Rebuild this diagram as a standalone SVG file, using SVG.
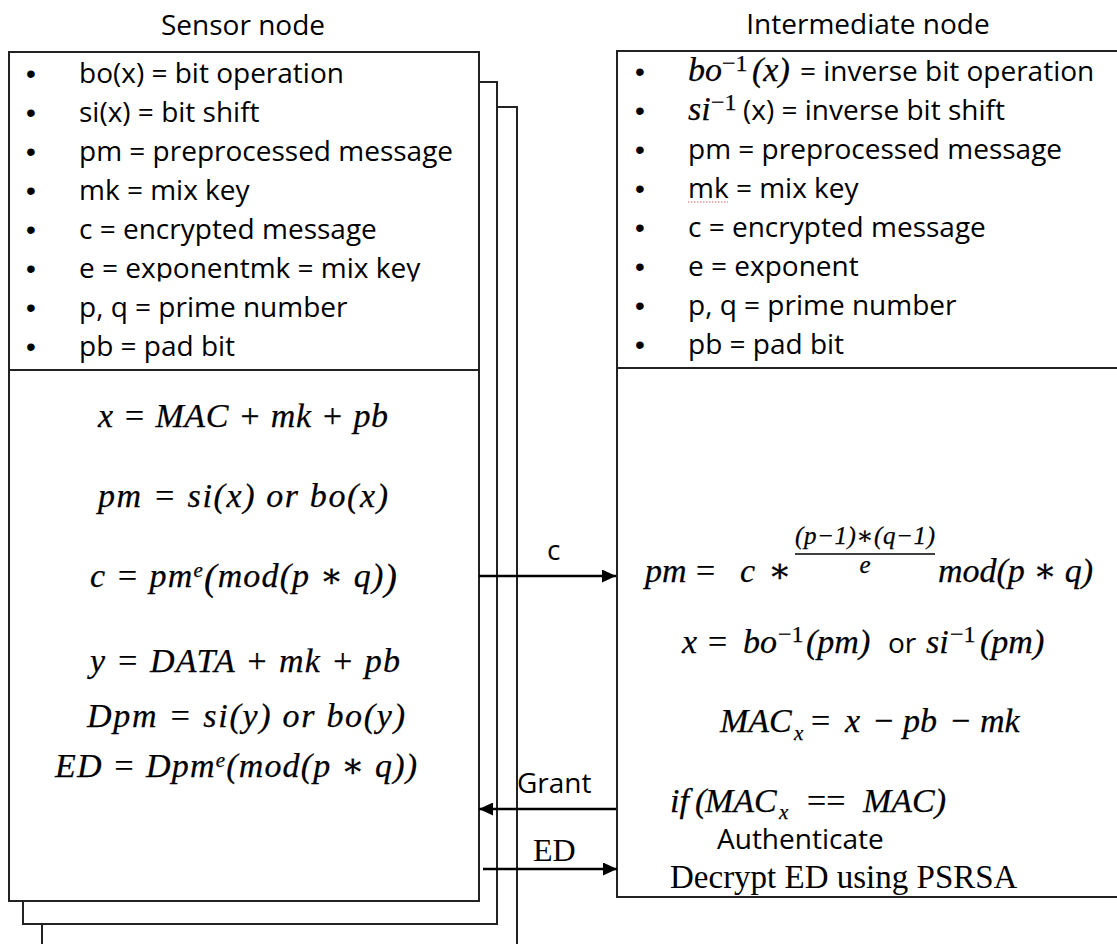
<svg xmlns="http://www.w3.org/2000/svg" width="1117" height="944" viewBox="0 0 1117 944">
  <style>
    .box{fill:#fff;stroke:#222;stroke-width:2}
    .rule{stroke:#222;stroke-width:2}
    .t{font-family:"Open Sans","Liberation Sans",sans-serif;font-size:28px;fill:#000}
    .hdr{text-anchor:middle}
    .bul{font-family:"Liberation Sans",sans-serif;font-size:28px;fill:#000;text-anchor:middle}
    .m{font-family:"Liberation Serif","DejaVu Serif",serif;font-style:italic;font-size:34px;fill:#000;stroke:#000;stroke-width:0.25}
    .up{font-style:normal}
    .sup{font-size:21px}
    .sup2{font-size:24px}
    .num{font-size:25px}
    .big{font-size:38px}
    .rm{font-family:"Liberation Serif","Times New Roman",serif;font-size:33px;fill:#000}
    .arrow{stroke:#000;stroke-width:2.5;fill:none;marker-end:url(#head)}
  </style>
  <defs>
    <marker id="head" markerWidth="14" markerHeight="13" refX="14" refY="6.5" orient="auto" markerUnits="userSpaceOnUse">
      <path d="M0,0 L14,6.5 L0,13 z" fill="#000"/>
    </marker>
    <!-- the sixth legend line overflows its text frame and loses its descenders -->
    <clipPath id="clip-line6">
      <rect x="60" y="240" width="420" height="41.5"/>
    </clipPath>
  </defs>
  <rect width="1117" height="944" fill="#fff"/>

  <!-- Sensor node: a stack of three cards -->
  <g id="sensor-node">
    <text class="t hdr" x="243" y="35">Sensor node</text>
    <rect class="box" x="42" y="107" width="475" height="860"/>
    <rect class="box" x="23" y="82" width="474" height="842"/>
    <rect class="box" x="9" y="52" width="470" height="849"/>
    <line class="rule" x1="9" y1="370" x2="479" y2="370"/>

    <g id="sensor-legend">
      <text class="bul" x="31" y="83">•</text>
      <text class="bul" x="31" y="122">•</text>
      <text class="bul" x="31" y="161">•</text>
      <text class="bul" x="31" y="200">•</text>
      <text class="bul" x="31" y="239">•</text>
      <text class="bul" x="31" y="278">•</text>
      <text class="bul" x="31" y="317">•</text>
      <text class="bul" x="31" y="356">•</text>
      <text class="t" x="79" y="83">bo(x) = bit operation</text>
      <text class="t" x="79" y="122">si(x) = bit shift</text>
      <text class="t" x="79" y="161">pm = preprocessed message</text>
      <text class="t" x="79" y="200">mk = mix key</text>
      <text class="t" x="79" y="239">c = encrypted message</text>
      <text class="t" x="79" y="278" clip-path="url(#clip-line6)">e = exponentmk = mix key</text>
      <text class="t" x="79" y="317">p, q = prime number</text>
      <text class="t" x="79" y="356">pb = pad bit</text>
    </g>

    <g id="sensor-steps">
      <text class="m" x="98" y="427" textLength="290" lengthAdjust="spacing">x = MAC + mk + pb</text>
      <text class="m" x="98" y="507" textLength="290" lengthAdjust="spacing">pm = si(x) or bo(x)</text>
      <text class="m" x="90" y="587" textLength="307" lengthAdjust="spacing">c = pm<tspan class="sup" dy="-10">e</tspan><tspan class="big" dy="13">(</tspan><tspan dy="-3">mod(p ∗ q)</tspan><tspan class="big" dy="3">)</tspan></text>
      <text class="m" x="90" y="672" textLength="310" lengthAdjust="spacing">y = DATA + mk + pb</text>
      <text class="m" x="87" y="727" textLength="318" lengthAdjust="spacing">Dpm = si(y) or bo(y)</text>
      <text class="m" x="55" y="777" textLength="362" lengthAdjust="spacing">ED = Dpm<tspan class="sup" dy="-10">e</tspan><tspan dy="10">(mod(p ∗ q))</tspan></text>
    </g>
  </g>

  <!-- Intermediate node -->
  <g id="intermediate-node">
    <text class="t hdr" x="868" y="34">Intermediate node</text>
    <rect class="box" x="617" y="51" width="530" height="846"/>
    <line class="rule" x1="617" y1="368" x2="1117" y2="368"/>

    <g id="intermediate-legend">
      <text class="bul" x="640" y="81">•</text>
      <text class="bul" x="640" y="120">•</text>
      <text class="bul" x="640" y="159">•</text>
      <text class="bul" x="640" y="198">•</text>
      <text class="bul" x="640" y="237">•</text>
      <text class="bul" x="640" y="276">•</text>
      <text class="bul" x="640" y="315">•</text>
      <text class="bul" x="640" y="354">•</text>

      <text class="m" x="688" y="81">bo<tspan class="sup2 up" x="722" dy="-10">−1</tspan><tspan x="752" dy="10">(x)</tspan></text>
      <text class="t" x="800" y="81">= inverse bit operation</text>
      <text class="m" x="688" y="120">si<tspan class="sup2 up" x="711" dy="-10">−1</tspan></text>
      <text class="t" x="743" y="120">(x) = inverse bit shift</text>
      <text class="t" x="688" y="159">pm = preprocessed message</text>
      <text class="t" x="688" y="198">mk = mix key</text>
      <path d="M688,202 L728,202" stroke="#e06060" stroke-width="1.2" stroke-dasharray="1.5 1.5" fill="none"/>
      <text class="t" x="688" y="237">c = encrypted message</text>
      <text class="t" x="688" y="276">e = exponent</text>
      <text class="t" x="688" y="315">p, q = prime number</text>
      <text class="t" x="688" y="354">pb = pad bit</text>
    </g>

    <g id="intermediate-steps">
      <!-- pm = c * ((p-1)*(q-1))/e mod(p*q) -->
      <text class="m" x="645" y="582">pm</text>
      <text class="m up" x="696" y="582">=</text>
      <text class="m" x="740" y="582">c</text>
      <text class="m up" x="768" y="582">∗</text>
      <text class="m num" x="865" y="544" text-anchor="middle" textLength="140" lengthAdjust="spacing">(p−1)∗(q−1)</text>
      <line x1="795" y1="554" x2="935" y2="554" stroke="#000" stroke-width="1.3"/>
      <text class="m num" x="865" y="573" text-anchor="middle">e</text>
      <text class="m" x="938" y="582" textLength="155" lengthAdjust="spacing">mod(p ∗ q)</text>

      <!-- x = bo^-1(pm) or si^-1(pm) -->
      <text class="m" x="682" y="653">x<tspan class="up" x="708">=</tspan><tspan x="743">bo</tspan><tspan class="sup2 up" x="778" dy="-11">−1</tspan><tspan x="806" dy="11">(pm)</tspan></text>
      <text class="t" x="888" y="653">or</text>
      <text class="m" x="926" y="653">si<tspan class="sup2 up" x="950" dy="-11">−1</tspan><tspan x="980" dy="11">(pm)</tspan></text>

      <!-- MAC_x = x - pb - mk -->
      <text class="m" x="720" y="732">MAC<tspan class="sup" x="794" dy="8">x</tspan><tspan class="up" x="811" dy="-8">=</tspan><tspan x="845">x</tspan><tspan class="up" x="874">−</tspan><tspan x="903">pb</tspan><tspan class="up" x="951">−</tspan><tspan x="980">mk</tspan></text>

      <!-- if(MAC_x == MAC) -->
      <text class="m" x="670" y="812">if<tspan x="695">(</tspan><tspan x="705">MAC</tspan><tspan class="sup" x="779" dy="7">x</tspan><tspan class="up" x="807" dy="-7">==</tspan><tspan x="863">MAC</tspan><tspan>)</tspan></text>
      <text class="t" x="717" y="849">Authenticate</text>
      <text class="rm" x="670" y="888">Decrypt ED using PSRSA</text>
    </g>
  </g>

  <!-- Messages exchanged between the nodes -->
  <g id="connectors">
    <line class="arrow" x1="479" y1="576" x2="616" y2="576"/>
    <text class="t" x="547" y="560">c</text>

    <line class="arrow" x1="616" y1="809" x2="479" y2="809"/>
    <text class="t" x="517" y="793">Grant</text>

    <line class="arrow" x1="483" y1="869" x2="617" y2="869"/>
    <text class="rm" x="533" y="861" style="font-size:32px">ED</text>
  </g>
</svg>
